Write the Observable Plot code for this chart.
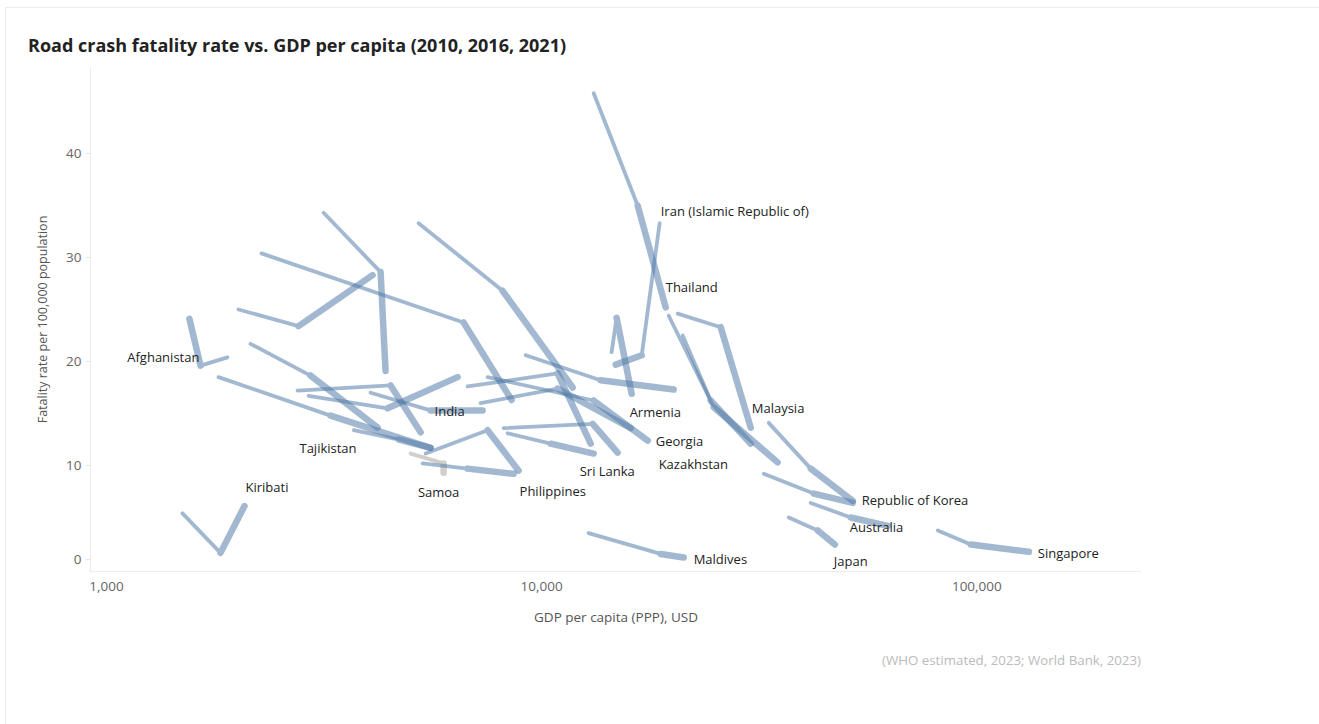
<!DOCTYPE html>
<html><head><meta charset="utf-8">
<script src="https://cdn.jsdelivr.net/npm/d3@7"></script>
<script src="https://cdn.jsdelivr.net/npm/@observablehq/plot@0.6"></script>
<style>
html,body{margin:0;padding:0;background:#fff;overflow:hidden;}
body{font-family:"Open Sans",Lato,sans-serif;width:1319px;height:724px;position:relative;}
#frame{position:absolute;left:5px;top:7px;width:1314px;height:717px;border-left:1px solid #ececec;border-top:1px solid #ececec;box-sizing:border-box;}
#title{position:absolute;left:28px;top:33px;font-size:18px;font-weight:bold;color:#222;white-space:nowrap;}
#chart{position:absolute;left:0;top:60px;}
#caption{position:absolute;left:0;width:1141px;text-align:right;top:651px;font-size:13.3px;color:#bbb;}
</style></head>
<body>
<div id="frame"></div>
<div id="title">Road crash fatality rate vs. GDP per capita (2010, 2016, 2021)</div>
<div id="chart"></div>
<div id="caption">(WHO estimated, 2023; World Bank, 2023)</div>
<script>
const countries = ["Kiribati","Afghanistan","Thailand","Iran (Islamic Republic of)","Unlabelled A","Unlabelled B","Unlabelled C","Unlabelled D","Unlabelled E","Unlabelled F","India","Unlabelled G","Tajikistan","Unlabelled H","Samoa","Unlabelled I","Philippines","Unlabelled J","Sri Lanka","Unlabelled K","Unlabelled L","Georgia","Unlabelled M","Armenia","Malaysia","Kazakhstan","Unlabelled N","Republic of Korea","Unlabelled O","Australia","Japan","Singapore","Maldives"];
const gdp2010 = [1495,1897,13170,18670,3155,2271,5215,2011,2748,2913,4045,2143,1809,3700,4998,5412,5326,8177,8353,6760,7240,7513,9190,14480,20540,19590,21090,33250,32380,41530,36970,81340,12820];
const gdp2016 = [1828,1645,16620,16980,4265,6617,8133,2763,4497,4426,5556,2944,3273,4700,5953,7513,6760,13100,10490,10880,10880,13170,13660,14870,25790,24860,24460,41530,42200,51320,43100,96880,18770];
const gdp2021 = [2076,1551,19280,14800,4378,8531,11785,4087,5271,6410,7317,4198,5556,5556,5953,8853,8620,14950,13170,12960,16020,17530,20110,16100,30230,34860,30230,51870,51870,62440,47170,131700,21200];
const rate2010 = [5.4,20.4,45.8,33.3,34.3,30.4,33.3,25.0,17.2,16.7,17.0,21.7,18.5,13.4,11.15,11.15,10.2,13.6,13.1,17.6,16.0,18.5,20.6,20.9,24.6,24.4,22.5,14.1,9.2,6.4,5.0,3.75,3.5];
const rate2016 = [1.6,19.6,35.0,20.6,28.6,23.75,26.8,23.4,17.7,15.5,15.3,18.65,14.8,12.5,10.2,13.4,9.7,14.0,12.1,18.85,17.4,16.25,18.2,24.2,23.3,15.6,16.25,9.7,7.3,5.0,3.75,2.4,1.5];
const rate2021 = [6.1,24.1,25.2,19.7,19.1,16.3,17.5,28.3,13.2,18.5,15.3,13.65,11.7,11.7,9.3,9.5,9.2,11.25,11.15,12.1,13.6,12.4,17.3,16.9,13.65,10.3,12.1,6.6,6.4,4.2,2.4,1.7,1.15];
const greyCountries = ["Samoa"];
const xTicks = [1000, 10000, 100000];
const yTicks = [0, 10, 20, 30, 40];

// label placement (pixel offsets from each country's 2021 point)
const labelStyle = {
  "Kiribati": [1, -18, "start"],
  "Afghanistan": [10, 39, "end"],
  "Thailand": [0, -20, "start"],
  "Iran (Islamic Republic of)": [45, -153, "start"],
  "India": [-18, 1, "end"],
  "Tajikistan": [-74, 1, "end"],
  "Samoa": [-5, 20, "middle"],
  "Philippines": [6, 18, "start"],
  "Sri Lanka": [-14, 18, "start"],
  "Armenia": [-2, 19, "start"],
  "Georgia": [8, 1, "start"],
  "Kazakhstan": [-119, 2, "start"],
  "Malaysia": [1, -19, "start"],
  "Republic of Korea": [9, 0, "start"],
  "Australia": [-38, 2, "start"],
  "Japan": [-1, 17, "start"],
  "Singapore": [9, 2, "start"],
  "Maldives": [10, 2, "start"]
};

const rows = countries.map((c, i) => ({country: c,
  x0: gdp2010[i], y0: rate2010[i], x1: gdp2016[i], y1: rate2016[i], x2: gdp2021[i], y2: rate2021[i]}));

const segMarks = rows.map(r => {
  const segs = [
    {country: r.country, xa: r.x0, ya: r.y0, xb: r.x1, yb: r.y1, w: 3.8},
    {country: r.country, xa: r.x1, ya: r.y1, xb: r.x2, yb: r.y2, w: 6.5}
  ];
  return Plot.link(segs, {x1: "xa", y1: "ya", x2: "xb", y2: "yb", strokeWidth: "w",
    stroke: greyCountries.includes(r.country) ? "#aaa39d" : "#4e79a7",
    strokeLinecap: "round"});
});

const labelMarks = rows.filter(r => labelStyle[r.country]).map(r => {
  const [dx, dy, anchor] = labelStyle[r.country];
  return Plot.text([r], {x: "x2", y: "y2", text: "country", dx, dy, textAnchor: anchor,
    fontSize: 13, fill: "#222", fontFamily: "'Open Sans', sans-serif"});
});

const xDomain = [919, 239000];
const yDomain = [-0.19, 48.27];

const chart = Plot.plot({
  width: 1319, height: 581,
  marginLeft: 90, marginRight: 178, marginTop: 7, marginBottom: 70,
  style: {fontFamily: "'Open Sans', sans-serif", background: "transparent"},
  x: {type: "log", domain: xDomain},
  y: {domain: yDomain},
  marks: [
    Plot.ruleY([yDomain[0]], {stroke: "#ececec"}),
    Plot.ruleX([xDomain[0]], {stroke: "#ececec"}),
    Plot.axisX(xTicks, {tickFormat: d3.format(","), tickSize: 0, tickPadding: 10, fontSize: 13.5, fill: "#666",
      label: "GDP per capita (PPP), USD", labelAnchor: "center", labelArrow: "none", labelOffset: 50}),
    Plot.axisY(yTicks.filter(d => d !== 0), {tickSize: 4, stroke: "#e4e4e4", tickPadding: 5, fontSize: 13.5, fill: "#666",
      label: "Fatality rate per 100,000 population", labelAnchor: "center", labelArrow: "none", labelOffset: 52}),
    Plot.axisY(yTicks.filter(d => d === 0), {tickSize: 4, stroke: "#e4e4e4", tickPadding: 5, fontSize: 13.5, fill: "#666", dy: -10, label: null}),
    ...segMarks,
    ...labelMarks
  ]
});
chart.querySelectorAll('g[aria-label="link"]').forEach(g => g.setAttribute("opacity", "0.52"));
chart.querySelectorAll('g[aria-label="x-axis label"] text').forEach(t => { t.setAttribute("fill", "#555"); t.style.fontSize = "13.5px"; });
chart.querySelectorAll('g[aria-label="y-axis label"] text').forEach(t => { t.setAttribute("fill", "#555"); t.style.fontSize = "12.5px"; });
document.getElementById("chart").appendChild(chart);
</script>
</body></html>
